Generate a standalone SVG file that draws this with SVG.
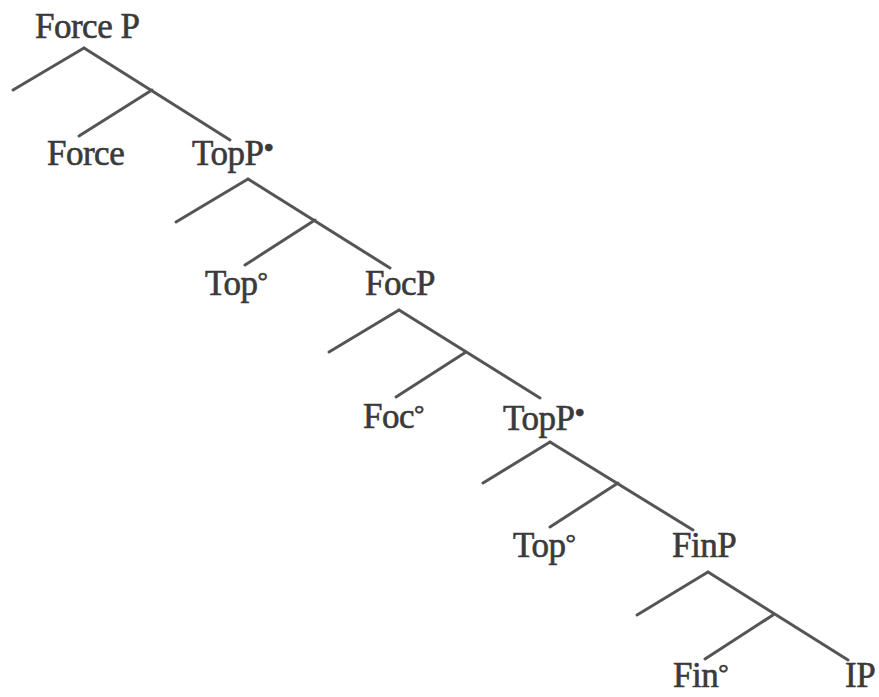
<svg xmlns="http://www.w3.org/2000/svg" width="879" height="697" viewBox="0 0 879 697">
<style>
text{font-family:"Liberation Serif","Times New Roman",serif;font-size:35px;fill:#3a3a3a;letter-spacing:-0.5px;stroke:#3a3a3a;stroke-width:0.6}
.sup{font-size:30px}
.deg{font-size:26px}
.edges line{stroke:#555;stroke-width:3;stroke-linecap:round}
</style>
<rect width="879" height="697" fill="#fff"/>
<g class="edges">
<line x1="84" y1="48" x2="13" y2="90"/>
<line x1="84" y1="48" x2="230" y2="140"/>
<line x1="152" y1="90" x2="79" y2="136"/>
<line x1="248" y1="179" x2="176" y2="222"/>
<line x1="248" y1="179" x2="390" y2="268"/>
<line x1="315" y1="220" x2="245" y2="265"/>
<line x1="399" y1="310" x2="329" y2="352"/>
<line x1="399" y1="310" x2="540" y2="398"/>
<line x1="466" y1="352" x2="396" y2="397"/>
<line x1="550" y1="442" x2="483" y2="483"/>
<line x1="550" y1="442" x2="693" y2="530"/>
<line x1="618" y1="483" x2="550" y2="527"/>
<line x1="708" y1="572" x2="637" y2="615"/>
<line x1="708" y1="572" x2="848" y2="660"/>
<line x1="773" y1="615" x2="705" y2="659"/>
</g>
<g id="forceP"><text x="35" y="38">Force P</text></g>
<g id="force"><text x="47" y="165">Force</text></g>
<g id="topP1"><text x="192" y="165">TopP<tspan class="sup" dy="-7">•</tspan></text></g>
<g id="top1"><text x="205" y="295">Top<tspan class="deg" dy="-6">°</tspan></text></g>
<g id="focP"><text x="365" y="295">FocP</text></g>
<g id="foc"><text x="363" y="428">Foc<tspan class="deg" dy="-6">°</tspan></text></g>
<g id="topP2"><text x="503" y="430">TopP<tspan class="sup" dy="-7">•</tspan></text></g>
<g id="top2"><text x="513" y="557">Top<tspan class="deg" dy="-6">°</tspan></text></g>
<g id="finP"><text x="672" y="557">FinP</text></g>
<g id="fin"><text x="673" y="687">Fin<tspan class="deg" dy="-6">°</tspan></text></g>
<g id="ip"><text x="845" y="687">IP</text></g>
</svg>
